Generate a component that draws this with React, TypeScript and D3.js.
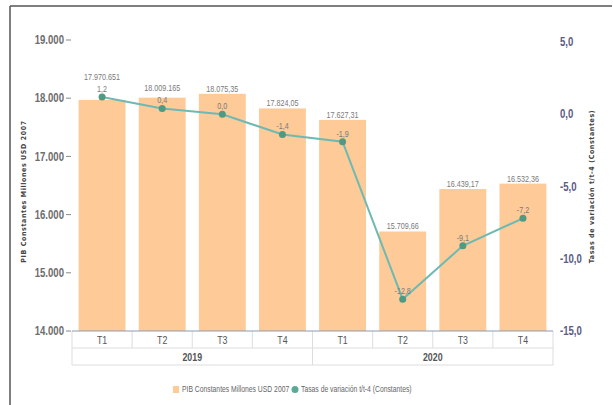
import React from "react";
import * as d3 from "d3";

const quarters = ["T1", "T2", "T3", "T4", "T1", "T2", "T3", "T4"];
const years = ["2019", "2020"];
const pibValues = [17970.651, 18009.165, 18075.35, 17824.05, 17627.31, 15709.66, 16439.17, 16532.36];
const pibLabels = ["17.970.651", "18.009.165", "18.075,35", "17.824,05", "17.627,31", "15.709,66", "16.439,17", "16.532,36"];
const rateValues = [1.2, 0.4, 0.0, -1.4, -1.9, -12.8, -9.1, -7.2];
const rateLabels = ["1,2", "0,4", "0,0", "-1,4", "-1,9", "-12,8", "-9,1", "-7,2"];
const leftTicks = [14000, 15000, 16000, 17000, 18000, 19000];
const leftTickLabels = ["14.000", "15.000", "16.000", "17.000", "18.000", "19.000"];
const rightTicks = [-15, -10, -5, 0, 5];
const rightTickLabels = ["-15,0", "-10,0", "-5,0", "0,0", "5,0"];
const seriesNames = ["PIB Constantes Millones USD 2007", "Tasas de variación t/t-4 (Constantes)"];
const leftTitle = "PIB Constantes Millones USD 2007";
const rightTitle = "Tasas de variación t/t-4 (Constantes)";

const W = 613;
const H = 405;
const plotLeft = 72;
const plotRight = 553;
const plotBottom = 331;
const rowH = 17;
const sans = "'Liberation Sans', Arial, sans-serif";
const barColor = "#fdca98";
const lineColor = "#6dbab2";
const markerColor = "#4f9a82";
const SX = 0.8;

type NTProps = {
  x: number;
  y: number;
  anchor?: "start" | "middle" | "end";
  size: number;
  bold?: boolean;
  fill: string;
  dy?: string;
  children: React.ReactNode;
};

function NText({ x, y, anchor = "start", size, bold, fill, dy, children }: NTProps) {
  return (
    <g transform={`translate(${x},${y}) scale(${SX},1)`}>
      <text
        x={0}
        y={0}
        dy={dy}
        textAnchor={anchor}
        fontFamily={sans}
        fontSize={size}
        fontWeight={bold ? "bold" : "normal"}
        fill={fill}
      >
        {children}
      </text>
    </g>
  );
}

export default function App() {
  const x = d3
    .scaleBand<number>()
    .domain(d3.range(quarters.length))
    .range([plotLeft, plotRight])
    .paddingInner(0.22)
    .paddingOuter(0.11);
  const yL = d3.scaleLinear().domain([14000, 19000]).range([plotBottom, 40]);
  const yR = d3.scaleLinear().domain([-15, 5]).range([plotBottom, 42]);
  const step = x.step();
  const cx = (i: number) => (x(i) as number) + x.bandwidth() / 2;

  const line = d3
    .line<number>()
    .x((_, i) => cx(i))
    .y((d) => yR(d));

  const labelH = 7;
  const lineLabelBase = rateValues.map((v) => yR(v) - 5);
  const barLabelBase = pibValues.map((v, i) => {
    let b = yL(v) - 2;
    const lb = lineLabelBase[i];
    const overlap = b > lb - labelH - 1 && b - labelH < lb + 1;
    if (overlap) b = lb - labelH - 5;
    return b;
  });

  const yearCount = quarters.length / years.length;

  return (
    <svg
      width={W}
      height={H}
      style={{ position: "absolute", left: 0, top: 0, background: "#fff" }}
    >
      {/* frame */}
      <line x1={10} y1={6} x2={612} y2={6} stroke="#555" strokeWidth={1.5} />
      <line x1={10} y1={6} x2={10} y2={H} stroke="#555" strokeWidth={1.5} />

      {/* bars */}
      {pibValues.map((v, i) => (
        <rect
          key={"b" + i}
          x={x(i)}
          y={yL(v)}
          width={x.bandwidth()}
          height={plotBottom - yL(v)}
          fill={barColor}
        />
      ))}

      {/* left axis */}
      {leftTicks.map((t, i) => (
        <g key={"lt" + i}>
          <NText x={64} y={yL(t)} dy="0.35em" anchor="end" size={12} bold fill="#6d6d6d">
            {leftTickLabels[i]}
          </NText>
          <line x1={66} x2={71} y1={yL(t)} y2={yL(t)} stroke="#888" strokeWidth={1} />
        </g>
      ))}
      <g transform={`translate(26,${(plotBottom + 40) / 2 + 6}) rotate(-90) scale(0.9,1)`}>
        <text
          textAnchor="middle"
          fontFamily="'DejaVu Sans', sans-serif"
          fontSize={7}
          fontWeight="bold"
          letterSpacing={0.7}
          fill="#444"
        >
          {leftTitle}
        </text>
      </g>

      {/* right axis */}
      {rightTicks.map((t, i) => (
        <NText key={"rt" + i} x={560} y={yR(t)} dy="0.35em" size={12} bold fill="#5b5c84">
          {rightTickLabels[i]}
        </NText>
      ))}
      <g transform={`translate(592,${(plotBottom + 42) / 2}) rotate(-90) scale(0.9,1)`}>
        <text
          textAnchor="middle"
          dy="0.35em"
          fontFamily="'DejaVu Sans', sans-serif"
          fontSize={7}
          fontWeight="bold"
          letterSpacing={0.7}
          fill="#444"
        >
          {rightTitle}
        </text>
      </g>

      {/* category table */}
      <line x1={plotLeft} x2={plotRight} y1={plotBottom + rowH} y2={plotBottom + rowH} stroke="#dddddd" />
      <line x1={plotLeft} x2={plotRight} y1={plotBottom + 2 * rowH} y2={plotBottom + 2 * rowH} stroke="#dddddd" />
      {d3.range(quarters.length + 1).map((i) => (
        <line
          key={"qs" + i}
          x1={plotLeft + i * step}
          x2={plotLeft + i * step}
          y1={plotBottom}
          y2={plotBottom + rowH}
          stroke="#dddddd"
        />
      ))}
      {d3.range(years.length + 1).map((i) => (
        <line
          key={"ys" + i}
          x1={plotLeft + i * yearCount * step}
          x2={plotLeft + i * yearCount * step}
          y1={plotBottom + rowH}
          y2={plotBottom + 2 * rowH}
          stroke="#dddddd"
        />
      ))}
      {quarters.map((q, i) => (
        <NText key={"q" + i} x={cx(i)} y={plotBottom + rowH / 2} dy="0.38em" anchor="middle" size={11} fill="#555">
          {q}
        </NText>
      ))}
      {years.map((yv, i) => (
        <NText
          key={"y" + i}
          x={plotLeft + (i + 0.5) * yearCount * step}
          y={plotBottom + rowH * 1.5}
          dy="0.38em"
          anchor="middle"
          size={11}
          bold
          fill="#555"
        >
          {yv}
        </NText>
      ))}
      <line x1={plotLeft} x2={plotRight} y1={plotBottom} y2={plotBottom} stroke="#8c9bb2" strokeWidth={1} />

      {/* bar labels */}
      {pibLabels.map((l, i) => (
        <NText key={"bl" + i} x={cx(i)} y={barLabelBase[i]} anchor="middle" size={9} fill="#7a7a7a">
          {l}
        </NText>
      ))}

      {/* line series */}
      <path d={line(rateValues) || ""} fill="none" stroke={lineColor} strokeWidth={2} />
      {rateValues.map((v, i) => (
        <circle key={"p" + i} cx={cx(i)} cy={yR(v)} r={3.5} fill={markerColor} />
      ))}
      {rateLabels.map((l, i) => (
        <NText key={"rl" + i} x={cx(i)} y={lineLabelBase[i]} anchor="middle" size={9} fill="#7a7a7a">
          {l}
        </NText>
      ))}

      {/* legend */}
      <rect x={173} y={386} width={6} height={7} fill={barColor} />
      <NText x={182} y={389.5} dy="0.35em" size={8.5} fill="#666">
        {seriesNames[0]}
      </NText>
      <circle cx={295} cy={389.5} r={3.5} fill="#5aaa9a" />
      <NText x={301} y={389.5} dy="0.35em" size={8.5} fill="#666">
        {seriesNames[1]}
      </NText>
    </svg>
  );
}
